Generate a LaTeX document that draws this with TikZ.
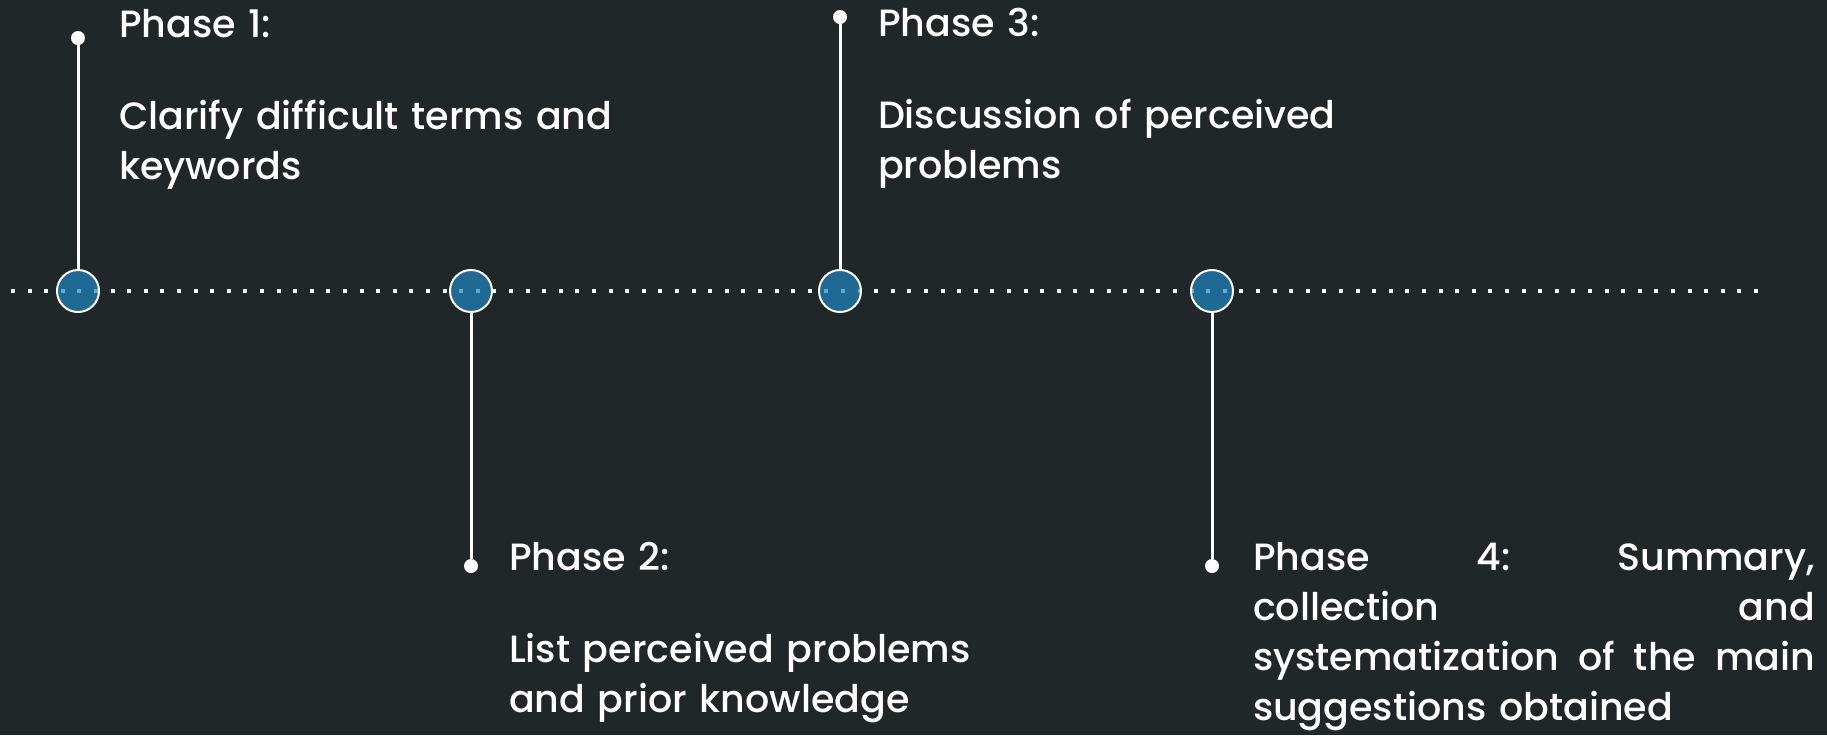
\documentclass[tikz,border=0pt]{standalone}
\usepackage{fontspec}
\setmainfont{Poppins Medium}
\definecolor{bgdark}{HTML}{212729}
\definecolor{phaseblue}{HTML}{1E87C2}
\begin{document}
\begin{tikzpicture}[x=0.5pt,y=-0.5pt,inner sep=0pt,outer sep=0pt,
phasedot/.style={draw=white,circle,fill=phaseblue,fill opacity=0.7,draw opacity=1,line width=1pt,minimum size=21pt},
enddot/.style={fill=white,circle,minimum size=7pt},
stem/.style={white,line width=1.5pt},
phasetext/.style={anchor=base west,text width=#1,align=left,text=white,font=\fontsize{19}{25}\selectfont}]
\useasboundingbox (0,0) rectangle (1827,735);
\fill[bgdark] (0,0) rectangle (1827,735);
\coordinate (lstart) at (11,291);
\coordinate (lend) at (1762,291);
\draw[white,line width=2pt,dash pattern=on 2pt off 6.3pt] (lstart) -- (lend);
\draw (78,38) node[enddot] (d1) {};
\draw (471,566) node[enddot] (d2) {};
\draw (840,17) node[enddot] (d3) {};
\draw (1212,566) node[enddot] (d4) {};
\draw (78,291) node[phasedot] (c1) {};
\draw (471,291) node[phasedot] (c2) {};
\draw (840,291) node[phasedot] (c3) {};
\draw (1212,291) node[phasedot] (c4) {};
\draw[stem] (c1) -- (d1);
\draw[stem] (c2) -- (d2);
\draw[stem] (c3) -- (d3);
\draw[stem] (c4) -- (d4);
\draw (119,37) node[phasetext=300pt] (t1) {Phase 1:\\[21pt]Clarify difficult terms and\\keywords};
\draw (509,570) node[phasetext=300pt] (t2) {Phase 2:\\[21pt]List perceived problems\\and prior knowledge};
\draw (878,36) node[phasetext=300pt] (t3) {Phase 3:\\[21pt]Discussion of perceived\\problems};
\draw (1253,570) node[phasetext=281pt] (t4) {Phase\hfill 4:\hfill Summary,\\collection\hfill and\\systematization\hfill of\hfill the\hfill main\\suggestions obtained};
\end{tikzpicture}
\end{document}
